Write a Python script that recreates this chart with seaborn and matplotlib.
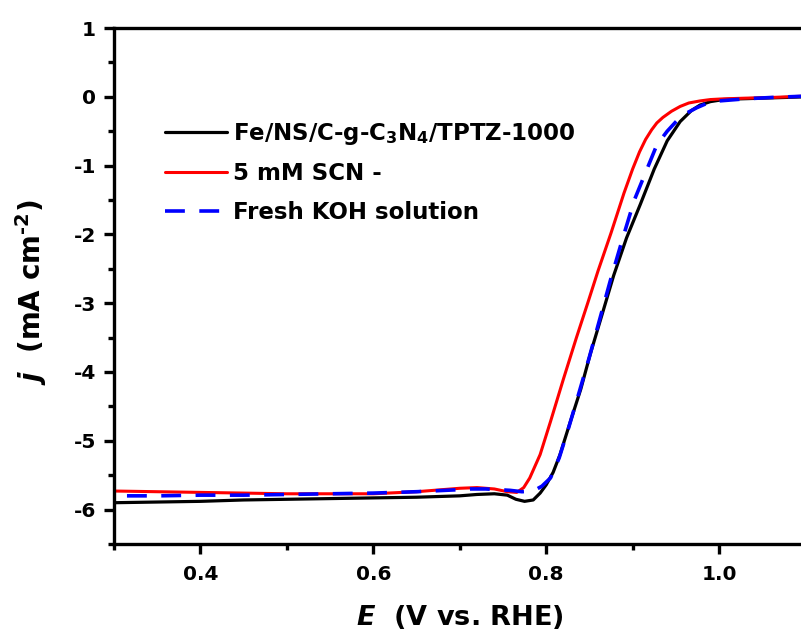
import numpy as np
import pandas as pd
import matplotlib
matplotlib.use('Agg')
import matplotlib.pyplot as plt
import seaborn as sns
from matplotlib.ticker import MultipleLocator

# LSV data (E in V vs. RHE, j in mA cm-2)
black_E = [0.30, 0.35, 0.40, 0.45, 0.50, 0.55, 0.60, 0.65, 0.70, 0.72, 0.74, 0.755, 0.765, 0.775,
           0.785, 0.793, 0.800, 0.808, 0.816, 0.828, 0.840, 0.851, 0.865, 0.878, 0.893, 0.909, 0.925,
           0.940, 0.955, 0.968, 0.978, 0.99, 1.005, 1.024, 1.05, 1.075, 1.10]
black_j = [-5.90, -5.89, -5.88, -5.86, -5.85, -5.84, -5.83, -5.82, -5.80, -5.78, -5.77, -5.79, -5.85, -5.88,
           -5.86, -5.76, -5.64, -5.46, -5.20, -4.72, -4.25, -3.74, -3.15, -2.60, -2.05, -1.56, -1.05,
           -0.64, -0.36, -0.20, -0.12, -0.07, -0.04, -0.03, -0.02, -0.01, 0.0]

red_E = [0.30, 0.35, 0.40, 0.45, 0.50, 0.55, 0.60, 0.65, 0.70, 0.72, 0.74, 0.755, 0.766, 0.774,
         0.781, 0.793, 0.805, 0.82, 0.835, 0.848, 0.860, 0.875, 0.890, 0.900, 0.908, 0.915, 0.922,
         0.928, 0.935, 0.945, 0.955, 0.965, 0.978, 0.99, 1.005, 1.03, 1.06, 1.10]
red_j = [-5.73, -5.74, -5.75, -5.76, -5.77, -5.77, -5.77, -5.74, -5.69, -5.68, -5.70, -5.74, -5.75, -5.68,
         -5.54, -5.20, -4.72, -4.10, -3.50, -3.00, -2.53, -1.98, -1.40, -1.05, -0.80, -0.62, -0.48,
         -0.38, -0.30, -0.21, -0.14, -0.09, -0.06, -0.04, -0.03, -0.02, -0.01, 0.01]

blue_E = [0.315, 0.35, 0.40, 0.45, 0.50, 0.55, 0.60, 0.65, 0.70, 0.712, 0.73, 0.745, 0.758, 0.772,
          0.785, 0.795, 0.805, 0.815, 0.826, 0.838, 0.850, 0.862, 0.874, 0.888, 0.902, 0.915,
          0.928, 0.940, 0.951, 0.962, 0.974, 0.985, 1.00, 1.03, 1.06, 1.10]
blue_j = [-5.80, -5.80, -5.79, -5.79, -5.78, -5.77, -5.76, -5.74, -5.71, -5.70, -5.70, -5.71, -5.72, -5.74,
          -5.73, -5.66, -5.54, -5.25, -4.81, -4.30, -3.78, -3.23, -2.68, -2.08, -1.50, -1.10,
          -0.70, -0.50, -0.35, -0.24, -0.16, -0.10, -0.06, -0.03, -0.01, 0.01]

labels = ['Fe/NS/C-g-C$_3$N$_4$/TPTZ-1000', '5 mM SCN -', 'Fresh KOH solution']

sns.set_style('ticks')
plt.rcParams['font.family'] = ['DejaVu Sans']
plt.rcParams['font.weight'] = 'bold'
plt.rcParams['axes.unicode_minus'] = False
plt.rcParams['mathtext.fontset'] = 'custom'
plt.rcParams['mathtext.rm'] = 'DejaVu Sans:bold'
plt.rcParams['mathtext.bf'] = 'DejaVu Sans:bold'
plt.rcParams['mathtext.it'] = 'DejaVu Sans:bold:italic'
plt.rcParams['mathtext.default'] = 'bf'
for key in ['text.color', 'axes.labelcolor', 'xtick.color', 'ytick.color', 'axes.edgecolor']:
    plt.rcParams[key] = 'black'

fig = plt.figure(figsize=(8.01, 6.35), dpi=100)
ax = fig.add_axes([114 / 801, 1 - 544 / 635, (805.5 - 114) / 801, (544 - 28) / 635])

sns.lineplot(x=black_E, y=black_j, color='black', lw=2.3, label=labels[0], ax=ax, estimator=None, sort=False)
sns.lineplot(x=red_E, y=red_j, color='#ff0000', lw=2.2, label=labels[1], ax=ax, estimator=None, sort=False)
sns.lineplot(x=blue_E, y=blue_j, color='#0000ff', lw=2.6, label=labels[2], ax=ax, estimator=None, sort=False)
ax.lines[2].set_dashes((5.5, 4))

ax.set_xlim(0.3, 1.1)
ax.set_ylim(-6.5, 1)
ax.xaxis.set_minor_locator(MultipleLocator(0.1))
ax.yaxis.set_major_locator(MultipleLocator(1))
ax.yaxis.set_minor_locator(MultipleLocator(0.5))
ax.set_xticks([0.4, 0.6, 0.8, 1.0])
ax.set_xticklabels(['0.4', '0.6', '0.8', '1.0'])

for s in ax.spines.values():
    s.set_linewidth(2.4)
ax.tick_params(which='major', length=7, width=2.4, labelsize=14.5, direction='out')
ax.tick_params(axis='x', which='major', pad=8)
ax.tick_params(axis='y', which='major', pad=6)
ax.tick_params(which='minor', length=4.5, width=2.4, direction='out')

ax.set_xlabel(r'$\mathit{E}$  (V vs. RHE)', fontsize=19.5, fontweight='bold', labelpad=14)
ax.set_ylabel(r'$\mathit{j}$  (mA cm$^{\text{-}2}$)', fontsize=20, fontweight='bold')
ax.yaxis.set_label_coords(-0.094, 0.488)

# legend without frame, placed like the original
handles, labs = ax.get_legend_handles_labels()
ax.legend(handles, labs, loc='upper left', bbox_to_anchor=(0.074, 0.82), frameon=False, fontsize=16.5,
          handlelength=2.7, handletextpad=0.26, labelspacing=0.68, borderpad=0, borderaxespad=0)

fig.savefig('out.png', dpi=100)
